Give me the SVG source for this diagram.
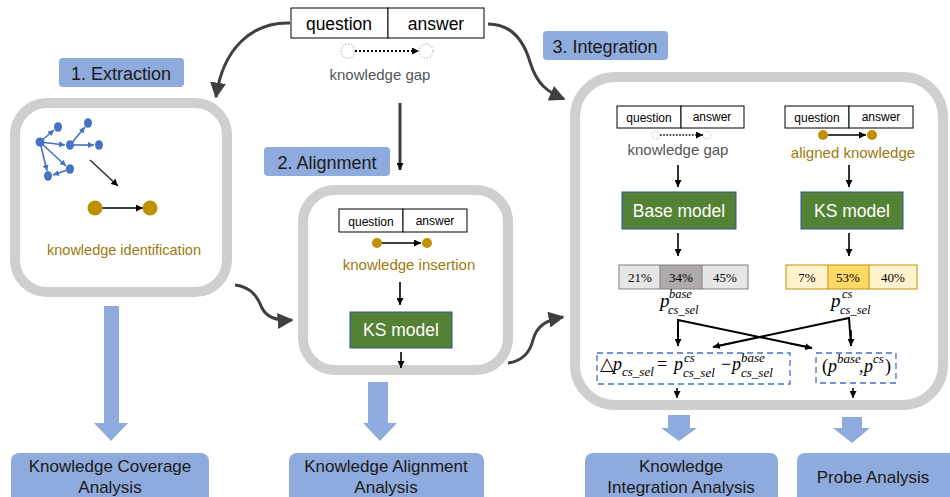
<svg xmlns="http://www.w3.org/2000/svg" width="950" height="497" viewBox="0 0 950 497">
<defs>
<style>
.sans{font-family:"Liberation Sans",Arial,sans-serif}
.math{font-family:"Liberation Serif","DejaVu Serif",serif;font-style:italic}
.rm{font-family:"Liberation Serif","DejaVu Serif",serif;font-style:normal}
.stage{fill:#fff;stroke:#d0cece;stroke-width:10}
.lab{fill:#8faadc}
.labt{font-size:18px;fill:#1a1a1a;text-anchor:middle}
.qa{fill:#fff;stroke:#000;stroke-width:1}
.qat{font-size:12px;fill:#000;text-anchor:middle}
.green{fill:#548235;stroke:#2f5597;stroke-width:1}
.gt{font-size:17.5px;fill:#fff;text-anchor:middle}
.gold{fill:#bf9000}
.goldt{fill:#9c7a0e;text-anchor:middle}
.thin{stroke:#000;stroke-width:1.6;fill:none;marker-end:url(#ah)}
.thick{stroke:#3f3f3f;stroke-width:3;fill:none;marker-end:url(#big)}
.blue{stroke:#4472c4;stroke-width:1.6;fill:none;marker-end:url(#bh)}
.bnode{fill:#4472c4}
.dash{fill:#fff;stroke:#4472c4;stroke-width:1.3;stroke-dasharray:6 4}
.wide{fill:#8faadc}
.bot{fill:#8faadc}
.bott{font-size:17px;fill:#1a1a1a;text-anchor:middle}
.pct{font-size:13px;fill:#000;text-anchor:middle}
</style>
<marker id="ah" viewBox="0 0 10 10" refX="10" refY="5" markerWidth="7" markerHeight="7" markerUnits="userSpaceOnUse" orient="auto"><path d="M0,0 L10,5 L0,10 z" fill="#000"/></marker>
<marker id="bh" viewBox="0 0 10 10" refX="10" refY="5" markerWidth="6" markerHeight="6" markerUnits="userSpaceOnUse" orient="auto"><path d="M0,0 L10,5 L0,10 z" fill="#4472c4"/></marker>
<marker id="big" viewBox="0 0 10 10" refX="9" refY="5" markerWidth="16" markerHeight="16" markerUnits="userSpaceOnUse" orient="auto"><path d="M0,0 L10,5 L0,10 z" fill="#3f3f3f"/></marker>
</defs>
<rect width="950" height="497" fill="#fff"/>

<!-- top question/answer -->
<g id="top-qa">
<rect x="291" y="8" width="97" height="30" class="qa"/>
<rect x="388" y="8" width="96" height="30" class="qa"/>
<text x="339" y="30" class="sans" font-size="17.5" text-anchor="middle">question</text>
<text x="436" y="30" class="sans" font-size="17.5" text-anchor="middle">answer</text>
<circle cx="348" cy="51" r="7" fill="#fff" stroke="#aaa" stroke-width="1" stroke-dasharray="1.5 1.5"/>
<circle cx="426" cy="51" r="7" fill="#fff" stroke="#aaa" stroke-width="1" stroke-dasharray="1.5 1.5"/>
<line x1="355" y1="51" x2="419" y2="51" stroke="#000" stroke-width="2" stroke-dasharray="2 2" marker-end="url(#ah)"/>
<text x="380" y="80" class="sans" font-size="15" fill="#555" text-anchor="middle">knowledge gap</text>
</g>

<!-- stage labels -->
<g id="label-extraction"><rect x="59" y="58" width="125" height="29" rx="4" class="lab"/><text x="121" y="80" class="sans labt">1. Extraction</text></g>
<g id="label-alignment"><rect x="264" y="147" width="126" height="29" rx="4" class="lab"/><text x="327" y="169" class="sans labt">2. Alignment</text></g>
<g id="label-integration"><rect x="543" y="31" width="125" height="29" rx="4" class="lab"/><text x="605" y="53" class="sans labt">3. Integration</text></g>

<!-- stage 1 -->
<g id="stage-extraction">
<rect x="15" y="103" width="212" height="189" rx="32" class="stage"/>
<g id="graph">
<line x1="40" y1="142" x2="54" y2="130" class="blue"/>
<line x1="40" y1="142" x2="65" y2="145" class="blue"/>
<line x1="40" y1="142" x2="66" y2="166" class="blue"/>
<line x1="40" y1="142" x2="47" y2="171" class="blue"/>
<line x1="70" y1="145" x2="85" y2="127" class="blue"/>
<line x1="70" y1="145" x2="94" y2="145" class="blue"/>
<line x1="70" y1="169" x2="53" y2="175" class="blue"/>
<ellipse cx="40" cy="142" rx="4.5" ry="4.5" class="bnode"/>
<ellipse cx="58" cy="127" rx="4" ry="4.8" class="bnode"/>
<ellipse cx="70" cy="145" rx="4" ry="4.8" class="bnode"/>
<ellipse cx="88" cy="123" rx="4" ry="4.8" class="bnode"/>
<ellipse cx="99" cy="145" rx="4" ry="4.8" class="bnode"/>
<ellipse cx="70" cy="169" rx="4" ry="4.8" class="bnode"/>
<ellipse cx="48" cy="176" rx="4" ry="4.8" class="bnode"/>
</g>
<line x1="90" y1="160" x2="118" y2="186" stroke="#333" stroke-width="1.6" marker-end="url(#ah)"/>
<line x1="102" y1="208" x2="143" y2="208" class="thin"/>
<circle cx="95" cy="208" r="7.5" class="gold"/>
<circle cx="150" cy="208" r="7.5" class="gold"/>
<text x="124" y="255" class="sans goldt" font-size="14.5">knowledge identification</text>
</g>

<!-- stage 2 -->
<g id="stage-alignment">
<rect x="303" y="190" width="205" height="180" rx="32" class="stage"/>
<rect x="339" y="209" width="64" height="23" class="qa"/>
<rect x="403" y="209" width="64" height="23" class="qa"/>
<text x="371" y="226" class="sans qat">question</text>
<text x="435" y="225" class="sans qat">answer</text>
<line x1="382" y1="243" x2="421" y2="243" class="thin"/>
<circle cx="377" cy="243" r="5" class="gold"/>
<circle cx="427" cy="243" r="5" class="gold"/>
<text x="409" y="270" class="sans goldt" font-size="15">knowledge insertion</text>
<g id="ks-model-2"><rect x="350" y="312" width="102" height="36" class="green"/><text x="401" y="336" class="sans gt">KS model</text></g>
</g>

<!-- stage 3 -->
<g id="stage-integration">
<rect x="575" y="77" width="368" height="328" rx="40" class="stage"/>
<g id="left-col">
<rect x="617" y="106" width="64" height="22" class="qa"/>
<rect x="681" y="106" width="63" height="22" class="qa"/>
<text x="649" y="122" class="sans qat">question</text>
<text x="712" y="121" class="sans qat">answer</text>
<circle cx="656" cy="135" r="4" fill="#fff" stroke="#aaa" stroke-width="0.8" stroke-dasharray="1.2 1.2"/>
<circle cx="707" cy="135" r="4" fill="#fff" stroke="#aaa" stroke-width="0.8" stroke-dasharray="1.2 1.2"/>
<line x1="660" y1="135" x2="703" y2="135" stroke="#000" stroke-width="1.6" stroke-dasharray="1.6 1.6" marker-end="url(#ah)"/>
<text x="678" y="155" class="sans" font-size="15" fill="#555" text-anchor="middle">knowledge gap</text>
<g id="base-model"><rect x="622" y="192" width="114" height="37" class="green"/><text x="679" y="217" class="sans gt">Base model</text></g>
<g id="bar-base">
<rect x="619" y="265" width="41" height="24" fill="#e7e6e6"/>
<rect x="660" y="265" width="42" height="24" fill="#aeaaaa"/>
<rect x="702" y="265" width="46" height="24" fill="#e7e6e6"/>
<rect x="619" y="265" width="129" height="24" fill="none" stroke="#7f7f7f" stroke-width="1"/>
<line x1="660" y1="265" x2="660" y2="289" stroke="#7f7f7f"/>
<line x1="702" y1="265" x2="702" y2="289" stroke="#7f7f7f"/>
<text x="640" y="282" class="rm pct">21%</text>
<text x="681" y="282" class="rm pct">34%</text>
<text x="725" y="282" class="rm pct">45%</text>
</g>
<text class="math" font-size="19" x="660" y="307">p</text>
<text class="math" font-size="12.5" x="669" y="298">base</text>
<text class="math" font-size="12.5" x="668" y="314">cs_sel</text>
</g>
<g id="right-col">
<rect x="785" y="106" width="64" height="22" class="qa"/>
<rect x="849" y="106" width="64" height="22" class="qa"/>
<text x="817" y="122" class="sans qat">question</text>
<text x="881" y="121" class="sans qat">answer</text>
<line x1="828" y1="135" x2="866" y2="135" class="thin"/>
<circle cx="823" cy="135" r="5" class="gold"/>
<circle cx="872" cy="135" r="5" class="gold"/>
<text x="853" y="158" class="sans goldt" font-size="15">aligned knowledge</text>
<g id="ks-model-3"><rect x="801" y="192" width="102" height="37" class="green"/><text x="852" y="217" class="sans gt">KS model</text></g>
<g id="bar-cs">
<rect x="786" y="265" width="42" height="24" fill="#fff2cc"/>
<rect x="828" y="265" width="41" height="24" fill="#ffd966"/>
<rect x="869" y="265" width="48" height="24" fill="#fff2cc"/>
<rect x="786" y="265" width="131" height="24" fill="none" stroke="#bf9000" stroke-width="1"/>
<line x1="828" y1="265" x2="828" y2="289" stroke="#bf9000"/>
<line x1="869" y1="265" x2="869" y2="289" stroke="#bf9000"/>
<text x="807" y="282" class="rm pct">7%</text>
<text x="848" y="282" class="rm pct">53%</text>
<text x="893" y="282" class="rm pct">40%</text>
</g>
<text class="math" font-size="19" x="831" y="307">p</text>
<text class="math" font-size="12.5" x="842" y="298">cs</text>
<text class="math" font-size="12.5" x="840" y="314">cs_sel</text>
</g>
<g id="delta-box">
<rect x="597" y="353" width="193" height="31" class="dash"/>
<text font-size="18" x="600" y="370" font-family="'DejaVu Sans',sans-serif">△</text>
<text class="math" font-size="18" x="613" y="370">p</text>
<text class="math" font-size="13" x="622" y="376">cs_sel</text>
<text class="rm" font-size="18" x="657" y="370">=</text>
<text class="math" font-size="18" x="674" y="370">p</text>
<text class="math" font-size="13" x="684" y="362">cs</text>
<text class="math" font-size="13" x="683" y="377">cs_sel</text>
<text class="rm" font-size="18" x="721" y="370">−</text>
<text class="math" font-size="18" x="732" y="370">p</text>
<text class="math" font-size="13" x="741" y="362">base</text>
<text class="math" font-size="13" x="741" y="377">cs_sel</text>
</g>
<g id="probe-box">
<rect x="816" y="353" width="80" height="30" class="dash"/>
<text class="rm" font-size="18" x="822" y="372">(</text>
<text class="math" font-size="18" x="828" y="372">p</text>
<text class="math" font-size="13" x="837" y="363">base</text>
<text class="math" font-size="18" x="859" y="372">,</text>
<text class="math" font-size="18" x="864" y="372">p</text>
<text class="math" font-size="13" x="873" y="363">cs</text>
<text class="rm" font-size="18" x="885" y="372">)</text>
</g>
</g>

<!-- outcome arrows and boxes -->
<g id="outcome-coverage">
<path d="M104,306 H119 V423 H128 L111,441 L94,423 H104 Z" class="wide"/>
<rect x="11" y="453" width="198" height="56" rx="8" class="bot"/>
<text x="110" y="472" class="sans bott">Knowledge Coverage</text>
<text x="110" y="493" class="sans bott">Analysis</text>
</g>
<g id="outcome-alignment">
<path d="M368,382 H388 V423 H397 L380,441 L363,423 H368 Z" class="wide"/>
<rect x="289" y="453" width="195" height="56" rx="8" class="bot"/>
<text x="386" y="472" class="sans bott">Knowledge Alignment</text>
<text x="386" y="493" class="sans bott">Analysis</text>
</g>
<g id="outcome-integration">
<path d="M668,415 H690 V428 H697 L679,441 L661,428 H668 Z" class="wide"/>
<rect x="585" y="453" width="193" height="56" rx="8" class="bot"/>
<text x="681" y="472" class="sans bott">Knowledge</text>
<text x="681" y="493" class="sans bott">Integration Analysis</text>
</g>
<g id="outcome-probe">
<path d="M842,417 H862 V428 H870 L852,443 L833,428 H842 Z" class="wide"/>
<rect x="797" y="453" width="160" height="56" rx="8" class="bot"/>
<text x="873" y="483" class="sans bott">Probe Analysis</text>
</g>

<!-- connectors -->
<g id="connectors">
<path d="M290,23 C252,22 223,48 216,97" class="thick"/>
<path d="M488,24 C515,24 525,45 530,62 C537,85 548,92 564,99" class="thick"/>
<path d="M235,285 C252,287 258,298 262,308 C267,318 277,321 292,320" class="thick"/>
<path d="M508,363 C523,361 530,352 533,340 C537,325 547,320 563,317" class="thick"/>
<line x1="400" y1="103" x2="400" y2="170" stroke="#3f3f3f" stroke-width="3" marker-end="url(#ah)"/>
<line x1="400" y1="282" x2="400" y2="305" class="thin"/>
<line x1="401" y1="352" x2="401" y2="368" class="thin"/>
<line x1="678" y1="165" x2="678" y2="187" class="thin"/>
<line x1="678" y1="233" x2="678" y2="256" class="thin"/>
<line x1="849" y1="165" x2="849" y2="187" class="thin"/>
<line x1="849" y1="233" x2="849" y2="256" class="thin"/>
<polyline points="678,346 678,320 812,348" fill="none" stroke="#000" stroke-width="2"/>
<line x1="678" y1="330" x2="678" y2="346" class="thin"/>
<line x1="790" y1="343.5" x2="812" y2="348" class="thin"/>
<polyline points="851,346 849,318 713,347" fill="none" stroke="#000" stroke-width="2"/>
<line x1="851" y1="330" x2="851" y2="346" class="thin"/>
<line x1="735" y1="342.3" x2="713" y2="347" class="thin"/>
<line x1="677" y1="388" x2="677" y2="398" class="thin"/>
<line x1="853" y1="388" x2="853" y2="398" class="thin"/>
</g>
</svg>
